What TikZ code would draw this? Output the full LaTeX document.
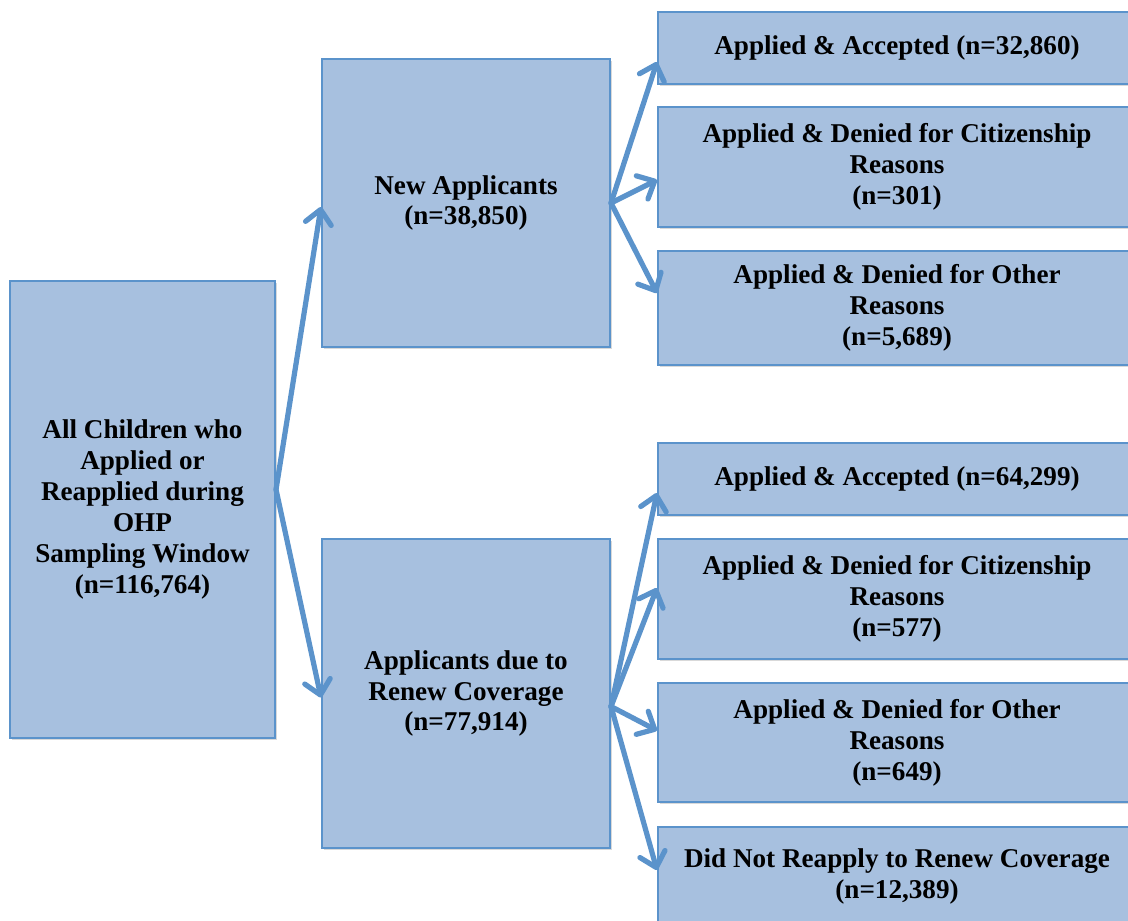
\documentclass[tikz,border=0pt]{standalone}
\usepackage{fontspec}
\setmainfont{Liberation Serif}
\usetikzlibrary{arrows.meta,calc,shadows}
\definecolor{boxfill}{HTML}{A7C0DF}
\definecolor{boxline}{HTML}{5B93CB}
\begin{document}
\begin{tikzpicture}[x=0.025cm,y=-0.025cm,
    box/.style={draw=boxline,fill=boxfill,line width=1.4pt,inner sep=0pt,
      align=center,font=\fontsize{19.3}{22}\selectfont\bfseries,
      drop shadow={shadow xshift=0.06cm,shadow yshift=-0.06cm,opacity=0.25,fill=black!60}},
    arr/.style={draw=boxline,line width=3.7pt,line cap=round,line join=round,
      -{Straight Barb[length=0.35cm,width=0.65cm,round]}}]
  \useasboundingbox (0,0) rectangle (1128,920);
  % first column
  \node[box,minimum width=6.625cm,minimum height=11.425cm] (all) at (142.5,509.5)
    {All Children who\\Applied or\\Reapplied during\\OHP\\Sampling Window\\(n=116,764)};
  % second column
  \node[box,minimum width=7.2cm,minimum height=7.2cm] (newapp) at (466,203)
    {New Applicants\\(n=38,850)};
  \node[box,minimum width=7.2cm,minimum height=7.725cm] (renew) at (466,693.5)
    {Applicants due to\\Renew Coverage\\(n=77,914)};
  % third column
  \node[box,minimum width=11.95cm,minimum height=1.8cm] (na1) at (897,48)
    {Applied \& Accepted (n=32,860)};
  \node[box,minimum width=11.95cm,minimum height=3cm] (na2) at (897,167)
    {Applied \& Denied for Citizenship\\Reasons\\(n=301)};
  \node[box,minimum width=11.95cm,minimum height=2.85cm] (na3) at (897,308)
    {Applied \& Denied for Other\\Reasons\\(n=5,689)};
  \node[box,minimum width=11.95cm,minimum height=1.8cm] (rn1) at (897,479)
    {Applied \& Accepted (n=64,299)};
  \node[box,minimum width=11.95cm,minimum height=3cm] (rn2) at (897,599)
    {Applied \& Denied for Citizenship\\Reasons\\(n=577)};
  \node[box,minimum width=11.95cm,minimum height=2.975cm] (rn3) at (897,742.5)
    {Applied \& Denied for Other\\Reasons\\(n=649)};
  \node[box,minimum width=11.95cm,minimum height=2.45cm] (rn4) at (897,876)
    {Did Not Reapply to Renew Coverage\\(n=12,389)};
  % arrows
  \coordinate (split) at ($(all.east)+(0,-20)$);
  \draw[arr] (split) -- ($(newapp.west)+(0,4)$);
  \draw[arr] (split) -- ($(renew.west)+(0,4)$);
  \draw[arr] (newapp.east) -- ($(na1.west)+(0,14)$);
  \draw[arr] (newapp.east) -- ($(na2.west)+(0,13)$);
  \draw[arr] (newapp.east) -- ($(na3.west)+(0,-15)$);
  \coordinate (split2) at ($(renew.east)+(0,13)$);
  \draw[arr] (split2) -- ($(rn1.west)+(0,14)$);
  \draw[arr] (split2) -- ($(rn2.west)+(0,-11)$);
  \draw[arr] (split2) -- ($(rn3.west)+(0,-12)$);
  \draw[arr] (split2) -- ($(rn4.west)+(0,-6)$);
\end{tikzpicture}
\end{document}
